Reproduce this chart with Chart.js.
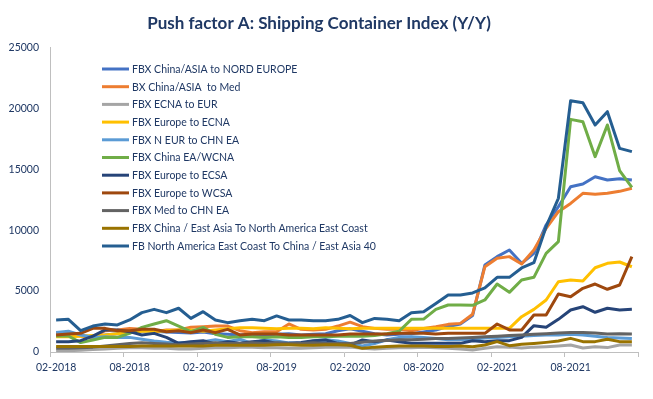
<!DOCTYPE html>
<html lang="en">
<head>
    <meta charset="UTF-8">
    <title>Push factor A: Shipping Container Index</title>
    <script src="https://cdn.jsdelivr.net/npm/chart.js"></script>
    <style>
        html, body { margin: 0; padding: 0; background: #ffffff; }
        .chart-box { width: 653px; height: 399px; position: relative; }
    </style>
</head>
<body>
    <div class="chart-box">
        <canvas id="fbxChart"></canvas>
    </div>

    <script>
        const FONT = 'Lato, "Open Sans", sans-serif';
        const NAVY = '#1F3864';

        const months = [
            '02-2018', '03-2018', '04-2018', '05-2018', '06-2018', '07-2018', '08-2018', '09-2018', '10-2018', '11-2018', '12-2018', '01-2019',
            '02-2019', '03-2019', '04-2019', '05-2019', '06-2019', '07-2019', '08-2019', '09-2019', '10-2019', '11-2019', '12-2019', '01-2020',
            '02-2020', '03-2020', '04-2020', '05-2020', '06-2020', '07-2020', '08-2020', '09-2020', '10-2020', '11-2020', '12-2020', '01-2021',
            '02-2021', '03-2021', '04-2021', '05-2021', '06-2021', '07-2021', '08-2021', '09-2021', '10-2021', '11-2021', '12-2021', '01-2022'
        ];

        const seriesNames = [
            'FBX China/ASIA to NORD EUROPE',
            'BX China/ASIA  to Med',
            'FBX ECNA to EUR',
            'FBX Europe to ECNA',
            'FBX N EUR to CHN EA',
            'FBX China EA/WCNA',
            'FBX Europe to ECSA',
            'FBX Europe to WCSA',
            'FBX Med to CHN EA',
            'FBX China / East Asia To North America East Coast',
            'FB North America East Coast To China / East Asia 40'
        ];

        const seriesColors = ['#4472C4', '#ED7D31', '#A5A5A5', '#FFC000', '#5B9BD5', '#70AD47',
                              '#264478', '#9E480E', '#636363', '#997300', '#255E91'];

        // values, one per month
        const chinaNEurope = [1500, 1600, 1350, 1250, 1400, 1500, 1600, 1750, 1700, 1650, 1600, 1550,
                              1650, 1500, 1450, 1400, 1450, 1400, 1450, 1500, 1400, 1450, 1500, 1750,
                              1900, 1700, 1500, 1400, 1450, 1500, 1650, 1800, 2100, 2300, 3000, 7140,
                              7830, 8370, 7280, 8100, 10430, 11930, 13570, 13790, 14390, 14120, 14230, 14120];
        const chinaMed = [1530, 1590, 1310, 1200, 1750, 1810, 1940, 1860, 1670, 1810, 1810, 2030,
                          2080, 2130, 2130, 1750, 1590, 1670, 1670, 2300, 1860, 1810, 1860, 2130,
                          2450, 2080, 1940, 1860, 1860, 1750, 1940, 2080, 2270, 2350, 3100, 7000,
                          7690, 7830, 7220, 8370, 10150, 11520, 12200, 13030, 12950, 13030, 13190, 13440];
        const ecnaEur = [100, 100, 150, 200, 250, 300, 350, 350, 300, 300, 250, 250,
                         300, 350, 350, 400, 400, 350, 350, 300, 300, 350, 400, 400,
                         400, 300, 250, 300, 350, 350, 400, 350, 300, 250, 160, 300,
                         440, 400, 330, 400, 440, 500, 570, 330, 440, 360, 570, 570];
        const europeEcna = [1250, 1250, 1300, 1350, 1400, 1500, 1600, 1700, 1700, 1750, 1800, 1800,
                            1700, 1800, 1900, 2000, 2000, 1950, 1900, 1950, 1950, 1900, 2000, 1950,
                            1900, 1950, 1950, 1950, 1950, 1950, 1950, 1940, 1940, 1940, 1940, 1940,
                            1940, 1940, 2900, 3500, 4270, 5770, 5910, 5830, 6920, 7280, 7390, 7000];
        const nEurChina = [1600, 1700, 1400, 1200, 1250, 1200, 1200, 1050, 900, 800, 750, 800,
                           850, 1000, 850, 1050, 700, 1000, 900, 750, 700, 900, 1000, 900,
                           700, 500, 700, 1000, 1200, 1250, 1200, 1100, 1000, 1000, 1050, 1150,
                           1200, 1250, 1300, 1350, 1400, 1400, 1450, 1400, 1300, 1200, 1150, 1100];
        const chinaWcna = [1310, 1310, 770, 990, 1200, 1200, 1530, 2020, 2300, 2570, 2130, 1670,
                           2020, 1460, 1200, 1250, 1250, 1200, 1250, 1200, 1200, 1250, 1250, 1300,
                           1300, 1300, 1350, 1500, 1700, 2680, 2700, 3500, 3860, 3860, 3830, 4270,
                           5580, 4900, 5910, 6130, 8100, 9060, 19100, 18910, 16040, 18640, 14890, 13520];
        const europeEcsa = [850, 850, 930, 1310, 1810, 1810, 1670, 1400, 1530, 1200, 710, 850,
                            930, 660, 850, 710, 850, 930, 710, 710, 780, 930, 990, 710,
                            570, 990, 850, 990, 850, 710, 710, 710, 710, 710, 930, 850,
                            930, 930, 1200, 2160, 2030, 2680, 3450, 3720, 3260, 3590, 3450, 3500];
        const europeWcsa = [1400, 1480, 1530, 1940, 1940, 1750, 1750, 1860, 1860, 1670, 1750, 1590,
                            1810, 1590, 1860, 1400, 1480, 1480, 1480, 1400, 1400, 1400, 1400, 1400,
                            1480, 1480, 1480, 1480, 1530, 1530, 1530, 1480, 1530, 1530, 1530, 1530,
                            2300, 1810, 1810, 3040, 3040, 4760, 4540, 5230, 5580, 5150, 5500, 7830];
        const medChina = [300, 300, 350, 400, 500, 600, 700, 750, 700, 650, 600, 650,
                          700, 750, 700, 700, 750, 700, 750, 700, 700, 750, 700, 700,
                          700, 800, 900, 950, 1000, 1000, 1050, 1100, 1100, 1150, 1200, 1260,
                          1300, 1350, 1400, 1450, 1500, 1550, 1610, 1600, 1550, 1480, 1500, 1480];
        const chinaNaec = [450, 450, 450, 450, 450, 450, 450, 500, 500, 500, 500, 500,
                           500, 550, 550, 550, 550, 550, 600, 600, 550, 550, 600, 600,
                           550, 300, 400, 450, 500, 500, 500, 450, 450, 500, 440, 570,
                           850, 520, 630, 700, 790, 900, 1120, 850, 850, 1040, 850, 850];
        const naecChina = [2630, 2680, 1750, 2130, 2300, 2220, 2630, 3230, 3500, 3230, 3590, 2760,
                           3310, 2630, 2410, 2570, 2680, 2570, 2960, 2630, 2630, 2570, 2570, 2680,
                           3000, 2410, 2760, 2680, 2570, 3230, 3310, 3990, 4680, 4680, 4850, 5260,
                           6130, 6130, 6900, 7330, 10290, 12620, 20630, 20470, 18640, 19730, 16720, 16450];

        const allSeries = [chinaNEurope, chinaMed, ecnaEur, europeEcna, nEurChina, chinaWcna,
                           europeEcsa, europeWcsa, medChina, chinaNaec, naecChina];

        const yTicks = [0, 5000, 10000, 15000, 20000, 25000];

        // legend sits inside the plot, top left, like the excel original
        const insideLegend = {
            id: 'insideLegend',
            afterDatasetsDraw(chart) {
                const ctx = chart.ctx;
                const left = chart.chartArea.left + 52;
                const top = chart.chartArea.top + 21.5;
                ctx.save();
                ctx.font = '10.5px ' + FONT;
                ctx.textBaseline = 'middle';
                ctx.lineCap = 'butt';
                chart.data.datasets.forEach((ds, i) => {
                    const y = top + i * 17.7;
                    ctx.strokeStyle = ds.borderColor;
                    ctx.lineWidth = 3;
                    ctx.beginPath();
                    ctx.moveTo(left, y);
                    ctx.lineTo(left + 27, y);
                    ctx.stroke();
                    ctx.fillStyle = NAVY;
                    ctx.fillText(ds.label, left + 30, y + 0.5);
                });
                ctx.restore();
            }
        };

        const datasets = allSeries.map((values, i) => ({
            label: seriesNames[i],
            data: values,
            borderColor: seriesColors[i],
            backgroundColor: seriesColors[i],
            borderWidth: 3,
            pointRadius: 0,
            tension: 0,
            fill: false,
            borderJoinStyle: 'round',
            order: allSeries.length - 1 - i
        }));

        new Chart(document.getElementById('fbxChart'), {
            type: 'line',
            data: { labels: months, datasets: datasets },
            plugins: [insideLegend],
            options: {
                responsive: true,
                maintainAspectRatio: false,
                animation: false,
                devicePixelRatio: 1,
                layout: { padding: { left: 0, right: 15, top: 0, bottom: 0 } },
                plugins: {
                    legend: { display: false },
                    tooltip: { enabled: false },
                    title: {
                        display: true,
                        text: 'Push factor A: Shipping Container Index (Y/Y)',
                        color: NAVY,
                        font: { family: FONT, size: 17, weight: 'bold', lineHeight: 1.2 },
                        padding: { top: 13, bottom: 14.1 }
                    }
                },
                scales: {
                    x: {
                        offset: true,
                        afterFit(scale) { scale.height = 47; },
                        grid: {
                            offset: true,
                            drawOnChartArea: false,
                            tickLength: 5,
                            color: c => (c.index === undefined || c.index % 6 === 0) ? '#BFBFBF' : 'rgba(0,0,0,0)'
                        },
                        border: { display: true, color: '#BFBFBF', width: 1 },
                        ticks: {
                            autoSkip: false,
                            maxRotation: 0,
                            padding: 4,
                            color: NAVY,
                            font: { family: FONT, size: 10.5 },
                            callback: function (value, index) {
                                return index % 6 === 0 ? this.getLabelForValue(value) : '';
                            }
                        }
                    },
                    y: {
                        min: yTicks[0],
                        max: yTicks[yTicks.length - 1],
                        afterFit(scale) { scale.width = 50; },
                        grid: { display: false, drawTicks: true, tickLength: 8 },
                        border: { display: true, color: '#BFBFBF', width: 1 },
                        ticks: {
                            stepSize: yTicks[1] - yTicks[0],
                            padding: 3,
                            color: NAVY,
                            font: { family: FONT, size: 10.5 },
                            callback: value => String(value)
                        }
                    }
                }
            }
        });
    </script>
</body>
</html>
